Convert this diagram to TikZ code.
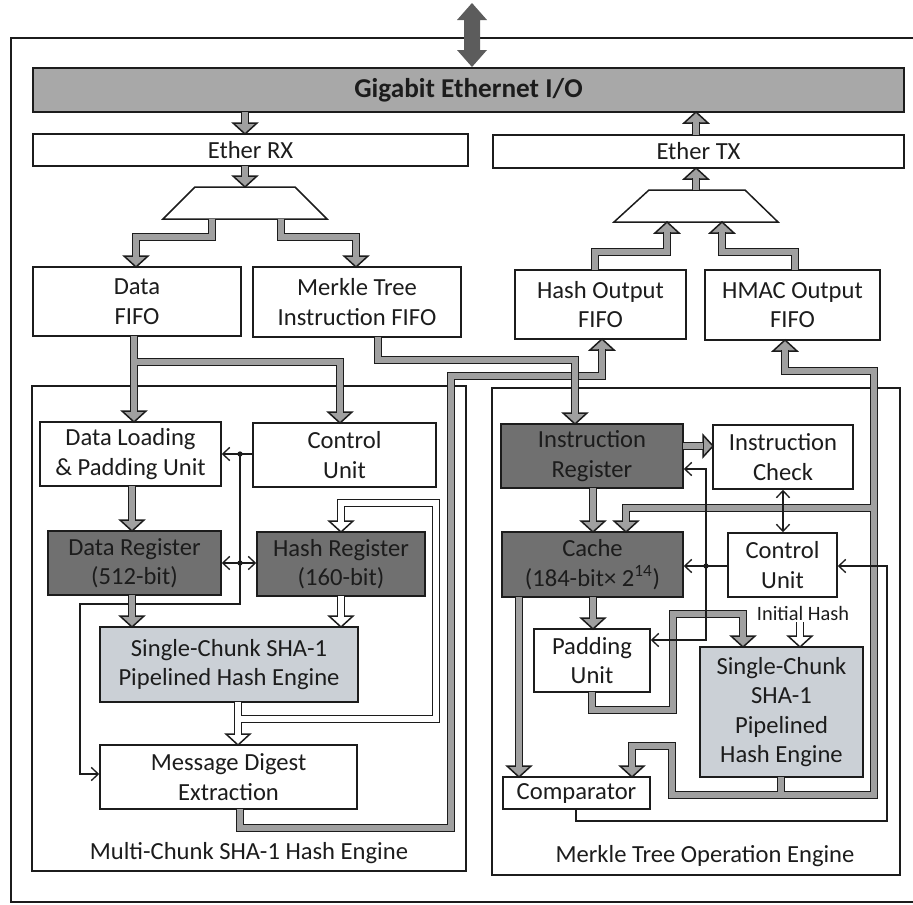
\documentclass[tikz,border=0pt]{standalone}
\usepackage{fontspec}
\setmainfont{Carlito}
\usetikzlibrary{arrows.meta}

\definecolor{ink}{RGB}{28,28,28}
\definecolor{busfill}{RGB}{168,168,168}
\definecolor{regfill}{RGB}{112,112,112}
\definecolor{shafill}{RGB}{203,208,214}
\definecolor{pipegray}{RGB}{160,160,160}
\definecolor{iofill}{RGB}{92,92,92}

\newcommand\mainfs{\fontsize{14}{16.8}\selectfont}
\newcommand\smallfs{\fontsize{11.6}{13}\selectfont}
\newcommand\busfs{\fontsize{15.5}{18}\selectfont\bfseries}

% wide bus arrow: dark outline pass, then the fill pass on top
\newcommand\pipe[2]{\draw[pipeout] #2; \draw[pipein,#1] #2;}

\begin{document}
\begin{tikzpicture}[x=0.02cm,y=-0.02cm,
  sz/.style 2 args={minimum width=#1*0.02cm, minimum height=#2*0.02cm},
  boxline/.style={draw=ink, line width=0.85pt},
  blk/.style={boxline, inner sep=0pt, align=center, font=\mainfs, text=ink, fill=white},
  reg/.style={blk, fill=regfill},
  sha/.style={blk, fill=shafill},
  bus/.style={boxline, inner sep=0pt, fill=busfill, font=\busfs, text=ink},
  engine/.style={draw=ink, line width=0.7pt, inner sep=0pt},
  lbl/.style={font=\mainfs, text=ink, inner sep=0pt},
  frame/.style={draw=ink, line width=1.1pt},
  pipeout/.style={draw=ink, line width=5.1pt, line join=miter, line cap=butt},
  pipein/.style={line width=3.4pt, line join=miter, line cap=butt},
  headline/.style={draw=ink, line width=0.85pt, line join=miter},
  pics/hd/.style={code={\filldraw[headline, fill=#1] (0,0) -- (-12,-11) -- (12,-11) -- cycle;}},
  pics/hu/.style={code={\filldraw[headline, fill=#1] (0,0) -- (-12,11) -- (12,11) -- cycle;}},
  pics/hr/.style={code={\filldraw[headline, fill=#1] (0,0) -- (-10,-11) -- (-10,11) -- cycle;}},
  tline/.style={draw=ink, line width=0.75pt},
  tarr/.style={tline, -{Straight Barb[length=4pt,width=7.5pt]}},
  tarrb/.style={tline, {Straight Barb[length=4pt,width=7.5pt]}-{Straight Barb[length=4pt,width=7.5pt]}},
  dot/.style={fill=ink}
]
\useasboundingbox (0,0) rectangle (913,904);

% outer frame
\draw[frame] (913,38) -- (11,38) -- (11,902) -- (913,902);

% bidirectional link to the network
\fill[iofill] (472,3) -- (487,20) -- (480,20) -- (480,50) -- (487,50) -- (472,67)
  -- (457,50) -- (464,50) -- (464,20) -- (457,20) -- cycle;

% engine enclosures
\node[engine, sz={434}{485}] (engL) at (249,628.5) {};
\node[lbl] (engLlbl) at (249,853) {Multi-Chunk SHA-1 Hash Engine};
\node[engine, sz={408}{487}] (engR) at (696,631.5) {};
\node[lbl] (engRlbl) at (705,856) {Merkle Tree Operation Engine};

% I/O blocks
\node[bus, sz={871}{44}] (gig) at (468.5,90) {Gigabit Ethernet I/O};
\node[blk, sz={435}{32}] (rx) at (250.5,150) {Ether RX};
\node[blk, sz={411}{33}] (tx) at (698.5,151.5) {Ether TX};

% demux / mux
\draw[boxline, fill=white] (163,219) -- (195,187) -- (295,187) -- (327,219) -- cycle;
\coordinate (demux) at (245,203);
\draw[boxline, fill=white] (614,222) -- (649,190) -- (745,190) -- (778,222) -- cycle;
\coordinate (mux) at (696,206);

% FIFOs
\node[blk, sz={208}{69}] (dfifo) at (137,301.5) {Data\\FIFO};
\node[blk, sz={208}{70}] (mfifo) at (357,302) {Merkle Tree\\Instruction FIFO};
\node[blk, sz={171}{69}] (hfifo) at (600.5,304.5) {Hash Output\\FIFO};
\node[blk, sz={175}{70}] (afifo) at (792.5,305) {HMAC Output\\FIFO};

% multi-chunk hash engine
\node[blk, sz={181}{64}] (dload) at (130.5,454) {Data Loading\\\& Padding Unit};
\node[blk, sz={183}{64}] (ctrlL) at (344.5,455) {Control\\Unit};
\node[reg, sz={173}{64}] (dreg) at (134.5,563) {Data Register\\(512-bit)};
\node[reg, sz={168}{64}] (hreg) at (341,564) {Hash Register\\(160-bit)};
\node[sha, sz={258}{75}] (shaL) at (229,664.5) {Single-Chunk SHA-1\\Pipelined Hash Engine};
\node[blk, sz={257}{64}] (mde) at (228.5,777) {Message Digest\\Extraction};

% merkle tree operation engine
\node[reg, sz={182}{64}] (ireg) at (592,456) {Instruction\\Register};
\node[blk, sz={140}{64}] (ichk) at (783,457) {Instruction\\Check};
\node[reg, sz={181}{65}] (cache) at (592.5,564.5) {Cache\\(184-bit\texttimes{} 2\textsuperscript{14})};
\node[blk, sz={109}{64}] (ctrlR) at (782.5,565) {Control\\Unit};
\node[blk, sz={116}{63}] (pad) at (592,660.5) {Padding\\Unit};
\node[sha, sz={163}{130}] (shaR) at (781.5,712) {Single-Chunk\\SHA-1\\Pipelined\\Hash Engine};
\node[blk, sz={147}{32}] (cmp) at (576.5,793) {Comparator};
\node[font=\smallfs, text=ink, inner sep=0pt] (ihash) at (803,613) {Initial Hash};

% control line routed under the data buses
\draw[tarr] (240,454) -- (240,604) -- (80,604) -- (80,774) -- (mde.west |- 0,774);

% arrow heads of the wide buses
\pic at (245,134) {hd=pipegray};
\pic at (245,187) {hd=pipegray};
\pic at (136,267) {hd=pipegray};
\pic at (356,267) {hd=pipegray};
\pic at (696,112) {hu=pipegray};
\pic at (696,168) {hu=pipegray};
\pic at (667,222) {hu=pipegray};
\pic at (722,222) {hu=pipegray};
\pic at (134,422) {hd=pipegray};
\pic at (340,423) {hd=pipegray};
\pic at (575,424) {hd=pipegray};
\pic at (602,339) {hu=pipegray};
\pic at (132,531) {hd=pipegray};
\pic at (132,627) {hd=pipegray};
\pic at (341,627) {hd=white};
\pic at (238,745) {hd=white};
\pic at (341,532) {hd=white};
\pic at (713,446) {hr=pipegray};
\pic at (593,532) {hd=pipegray};
\pic at (593,629) {hd=pipegray};
\pic at (519,777) {hd=pipegray};
\pic at (743,647) {hd=pipegray};
\pic at (632,777) {hd=pipegray};
\pic at (785,340) {hu=pipegray};
\pic at (626,532) {hd=pipegray};
\pic at (800,647) {hd=white};

% wide buses
\pipe{pipegray}{(245,112) -- (245,124)}
\pipe{pipegray}{(245,166) -- (245,177)}
\pipe{pipegray}{(212,219) -- (212,237) -- (136,237) -- (136,257)}
\pipe{pipegray}{(281,219) -- (281,237) -- (356,237) -- (356,257)}
\pipe{pipegray}{(696,135) -- (696,122)}
\pipe{pipegray}{(696,190) -- (696,178)}
\pipe{pipegray}{(595,270) -- (595,252) -- (667,252) -- (667,232)}
\pipe{pipegray}{(795,270) -- (795,252) -- (722,252) -- (722,232)}
\pipe{pipegray}{(134,336) -- (134,412) (134,362) -- (340,362) -- (340,413)}
\pipe{pipegray}{(240,809) -- (240,828) -- (451,828) -- (451,376) -- (602,376) -- (602,349)}
\pipe{pipegray}{(378,337) -- (378,360) -- (575,360) -- (575,414)}
\pipe{pipegray}{(132,486) -- (132,521)}
\pipe{pipegray}{(132,595) -- (132,617)}
\pipe{white}{(341,596) -- (341,617)}
\pipe{white}{(238,702) -- (238,735) (238,719) -- (436,719) -- (436,503) -- (341,503) -- (341,522)}
\pipe{pipegray}{(683,446) -- (703,446)}
\pipe{pipegray}{(593,488) -- (593,522)}
\pipe{pipegray}{(593,597) -- (593,619)}
\pipe{pipegray}{(519,597) -- (519,767)}
\pipe{pipegray}{(592,692) -- (592,710) -- (673,710) -- (673,614) -- (743,614) -- (743,637)}
\pipe{pipegray}{(781,777) -- (781,795) -- (672,795) -- (672,746) -- (632,746) -- (632,767)
  (781,795) -- (874,795) -- (874,371) -- (785,371) -- (785,350)
  (874,508) -- (626,508) -- (626,522)}
\pipe{white}{(800,622) -- (800,637)}

% control lines, left engine
\draw[tarr] (ctrlL.west |- 0,454) -- (dload.east |- 0,454);
\fill[dot] (240,454) circle[radius=1.5pt];
\draw[tarrb] (dreg.east |- 0,563) -- (hreg.west |- 0,563);
\fill[dot] (240,563) circle[radius=1.5pt];

% control lines, right engine
\draw[tarr] (ctrlR.west |- 0,566) -- (cache.east |- 0,566);
\fill[dot] (706,566) circle[radius=1.5pt];
\draw[tarr] (706,566) -- (706,469) -- (ireg.east |- 0,469);
\draw[tarr] (706,566) -- (706,640) -- (pad.east |- 0,640);
\draw[tarrb] (ichk.south -| 783,0) -- (ctrlR.north -| 783,0);
\draw[tarr] (cmp.south -| 576,0) -- (576,821) -- (887,821) -- (887,566) -- (ctrlR.east |- 0,566);

\end{tikzpicture}
\end{document}
